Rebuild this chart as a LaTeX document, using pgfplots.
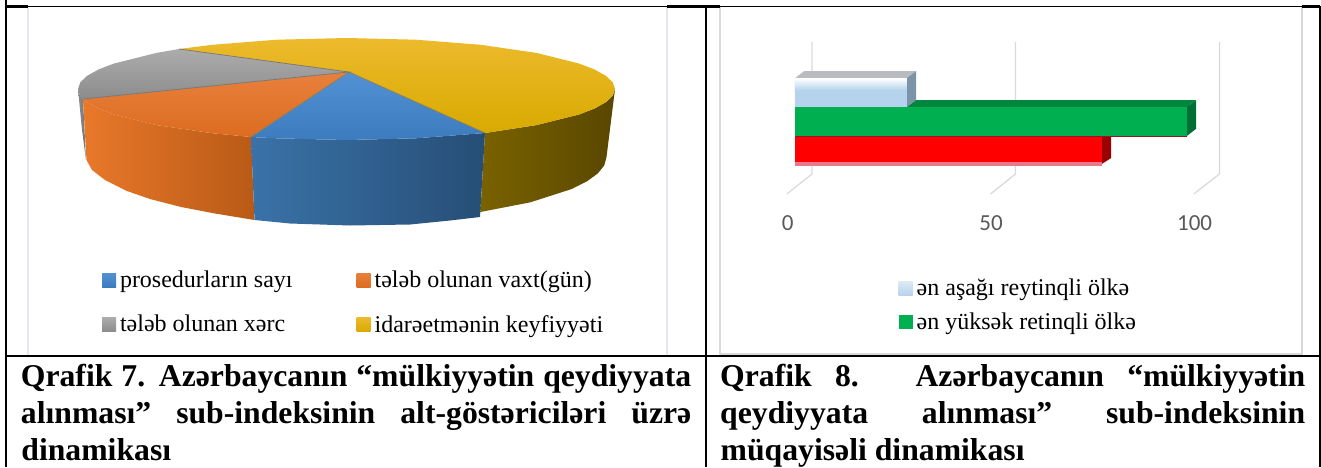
\documentclass[border=0pt]{standalone}
\usepackage{fontspec}
\usepackage{pgfplots}
\pgfplotsset{compat=1.18}
\setmainfont{Liberation Serif}
\newfontfamily\calibri{Carlito}
\pgfplotsset{swatch/.style={legend image code/.code={\path[##1,draw=none] (0pt,-7pt) rectangle (14pt,7pt);}}}
\newcommand{\capt}[3]{\node[anchor=base west,inner sep=0pt] at (#1) {\makebox[#2][s]{\fontsize{31.7}{32}\selectfont\bfseries #3}};}
\definecolor{bA}{HTML}{3A72A8}\definecolor{bB}{HTML}{33669A}\definecolor{bC}{HTML}{264E76}
\definecolor{oA}{HTML}{E9782A}\definecolor{oB}{HTML}{D0661F}\definecolor{oC}{HTML}{B85A16}
\definecolor{yS}{HTML}{7A6200}\definecolor{yT}{HTML}{594700}
\definecolor{fL}{HTML}{E2E7F2}\definecolor{fR}{HTML}{D9D9D9}
\begin{document}
\begin{tikzpicture}[x=1pt,y=1pt]
\path[use as bounding box,fill=white] (0,0) rectangle (1321,467);
% chart frames
\draw[color=fL,line width=2pt] (28,460.5)--(28,112);
\draw[color=fL,line width=2pt] (667,460.5)--(667,112);
\draw[color=fR,line width=2pt] (720,460.5)--(720,113)--(1302,113)--(1302,460.5);
% table lines
\draw[color=black,line width=1pt] (6,460.5)--(1319,460.5);
\draw[color=black,line width=2.2pt] (5,460.5)--(28,460.5) (667,460.5)--(720,460.5) (1302,460.5)--(1320,460.5);
\draw[color=black,line width=2pt] (6,467)--(6,0);
\draw[color=black,line width=2pt] (706,461)--(706,0);
\draw[color=black,line width=2pt] (1319.5,461)--(1319.5,0);
\draw[color=black,line width=1.6pt] (6,111.3)--(1319.5,111.3);
\begin{axis}[at={(0pt,112pt)},anchor=south west,x=1pt,y=1pt,xmin=0,xmax=706,ymin=0,ymax=355,y dir=reverse,hide axis,clip=false,no marks,swatch,
 legend columns=2,legend cell align=left,
 legend style={at={(axis cs:102,269)},anchor=north west,draw=none,fill=none,font=\fontsize{24}{24}\selectfont,inner sep=0pt,outer sep=0pt,
  /tikz/column 1/.style={column sep=2pt},/tikz/column 3/.style={column sep=2pt},/tikz/column 2/.style={column sep=62pt},/tikz/row sep=22pt}]
% side faces (outline, image pixels)
\addplot[forget plot,left color=black!45,right color=black!55,draw=none] coordinates {(78,89)(80.3,95.7)(83,99)(86,160)(82,130)} -- cycle;
\addplot[forget plot,left color=yS,right color=yT,draw=none] coordinates {(485,133)(536.4,125.1)(579,114.5)(594.6,108.5)(605.8,102.2)(612.7,95.7)(615,89)(606.5,157)(604.3,165.4)(597.6,173.6)(586.7,181.5)(571.7,189)(530.4,202.3)(480.4,212)} -- cycle;
\addplot[forget plot,left color=oA,middle color=oB,right color=oC,draw=none] coordinates {(251,137)(212.3,133.2)(156.6,125.1)(114,114.5)(98.4,108.5)(87.2,102.2)(83,99)(86.5,160)(92,170)(105,180)(127,191)(150,199)(181,207)(215,213.5)(254.5,220)} -- cycle;
\addplot[forget plot,left color=bA,middle color=bB,right color=bC,draw=none] coordinates {(485,133)(416,138.3)(346.5,140)(277,138.3)(251,137)(254.5,220)(290,223.5)(350,225.5)(410,224.5)(450,220.5)(480,217)} -- cycle;
% top faces
\addplot[top color={rgb,255:red,82;green,146;blue,212},bottom color={rgb,255:red,60;green,124;blue,190},draw=none] coordinates {(349,72)(485,133)(416,138.3)(346.5,140)(277,138.3)(251,137)} -- cycle;
\addlegendentry{prosedurların sayı}
\addplot[top color={rgb,255:red,232;green,128;blue,60},bottom color={rgb,255:red,220;green,108;blue,32},draw=none] coordinates {(349,72)(251,137)(212.3,133.2)(156.6,125.1)(114,114.5)(98.4,108.5)(87.2,102.2)(83,99)} -- cycle;
\addlegendentry{tələb olunan vaxt(gün)}
\addplot[top color={rgb,255:red,172;green,172;blue,172},bottom color={rgb,255:red,140;green,140;blue,140},draw=none] coordinates {(349,72)(83,99)(80.3,95.7)(78,89)(80.3,82.3)(87.2,75.8)(98.4,69.5)(114,63.5)(156.6,52.9)(179,49)} -- cycle;
\addlegendentry{tələb olunan xərc}
\addplot[top color={rgb,255:red,236;green,186;blue,44},bottom color={rgb,255:red,216;green,170;blue,0},draw=none] coordinates {(349,72)(179,49)(212.3,44.8)(277,39.7)(346.5,38)(416,39.7)(480.8,44.8)(536.4,52.9)(579,63.5)(594.6,69.5)(605.8,75.8)(612.7,82.3)(615,89)(612.7,95.7)(605.8,102.2)(594.6,108.5)(579,114.5)(536.4,125.1)(485,133)} -- cycle;
\addlegendentry{idarəetmənin keyfiyyəti}
\addplot[forget plot,color=black!60!yellow!60!gray,line width=0.8pt] coordinates {(485,133)(349,72)(251,137)};
\addplot[forget plot,color=black!55,line width=0.7pt] coordinates {(83,99)(349,72)(179,49)};
\end{axis}
\begin{axis}[at={(720pt,252pt)},anchor=south west,x=4.07pt,y=1pt,xmin=-18.4,xmax=124.6,ymin=30,ymax=215,y dir=reverse,clip=false,no marks,swatch,
 axis line style={draw=none},tick style={draw=none},ytick=\empty,xtick={0,50,100},
 xticklabel pos=lower,
 /pgf/number format/assume math mode=true,
 xticklabel style={font=\calibri\fontsize{23}{23}\selectfont,text=black!65,xshift=-7.3pt,yshift=3pt},
 legend cell align=left,
 legend style={at={(axis cs:25.5,277)},anchor=north west,draw=none,fill=none,font=\fontsize{24}{24}\selectfont,inner sep=0pt,outer sep=0pt,
  /tikz/column 1/.style={column sep=2pt},/tikz/row sep=12pt}]
% walls
\addplot[forget plot,color=black!15,line width=1.2pt] coordinates {(4.18,42)(4.18,174)(-1.97,194)};
\addplot[forget plot,color=black!15,line width=1.2pt] coordinates {(54.2,42)(54.2,174)(48.06,194)};
\addplot[forget plot,color=black!15,line width=1.2pt] coordinates {(104.3,42)(104.3,174)(98.0,194)};
% depth faces
\addplot[forget plot,fill={rgb,255:red,184;green,188;blue,192},draw=none] coordinates {(0,78.3)(27.5,78.3)(29.8,71)(2.3,71)} -- cycle;
\addplot[forget plot,fill={rgb,255:red,125;green,147;blue,168},draw=none] coordinates {(27.5,78.3)(29.8,71)(29.8,100)(27.5,107.3)} -- cycle;
\addplot[forget plot,fill={rgb,255:red,0;green,134;blue,61},draw=none] coordinates {(27.5,107.3)(96.3,107.3)(98.6,100)(29.8,100)} -- cycle;
\addplot[forget plot,fill={rgb,255:red,0;green,111;blue,53},draw=none] coordinates {(96.3,107.3)(98.6,100)(98.6,128.7)(96.3,136)} -- cycle;
\addplot[forget plot,fill={rgb,255:red,153;green,0;blue,0},draw=none] coordinates {(75.4,136)(77.7,136)(77.7,158)(75.4,164)} -- cycle;
% bars
\addplot[xbar,bar width=29pt,bar shift=0pt,top color={rgb,255:red,222;green,234;blue,245},bottom color={rgb,255:red,182;green,211;blue,237},draw=none] coordinates {(27.5,92.8)};
\addlegendentry{ən aşağı reytinqli ölkə}
\addplot[xbar,bar width=28.7pt,bar shift=0pt,fill={rgb,255:red,0;green,176;blue,80},draw=none] coordinates {(96.3,121.65)};
\addlegendentry{ən yüksək retinqli ölkə}
\addplot[forget plot,xbar,bar width=27pt,bar shift=0pt,fill=red,draw=none] coordinates {(75.4,149.5)};
\addplot[forget plot,fill={rgb,255:red,182;green,211;blue,237},draw=none] coordinates {(0,90)(27.5,90)(27.5,107.3)(0,107.3)} -- cycle;
\addplot[forget plot,top color=white,bottom color={rgb,255:red,182;green,211;blue,237},draw=none] coordinates {(0,78.3)(27.5,78.3)(27.5,90)(0,90)} -- cycle;
\addplot[forget plot,fill={rgb,255:red,230;green,122;blue,140},draw=none] coordinates {(0,162.3)(75.4,162.3)(75.4,165.7)(0,165.7)} -- cycle;
\addplot[forget plot,color={rgb,255:red,150;green,20;blue,40},line width=0.8pt] coordinates {(0,136)(96.3,136)};
\end{axis}
\capt{20.7,80.3}{670.3pt}{Qrafik 7. Azərbaycanın “mülkiyyətin qeydiyyata}
\capt{20.7,44}{670.3pt}{alınması” sub-indeksinin alt-göstəriciləri üzrə}
\capt{20.7,7}{0pt}{\rlap{dinamikası}}
\capt{720,80.3}{585pt}{Qrafik 8. Azərbaycanın “mülkiyyətin}
\capt{720,44}{585pt}{qeydiyyata alınması” sub-indeksinin}
\capt{720,7}{0pt}{\rlap{müqayisəli dinamikası}}
\end{tikzpicture}
\end{document}
